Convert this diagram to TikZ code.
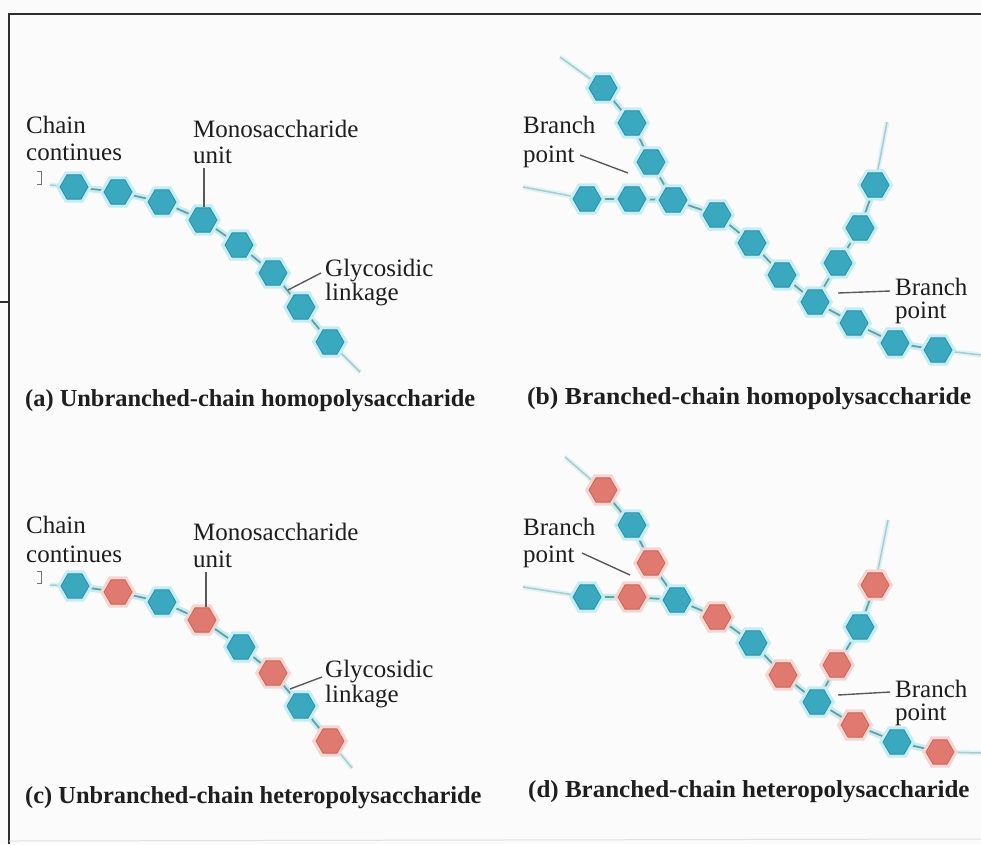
\documentclass[tikz,border=0pt]{standalone}
\usepackage{fontspec}
\setmainfont{Liberation Serif}
\usetikzlibrary{shapes.geometric}
\pgfdeclarelayer{bg}
\pgfsetlayers{bg,main}
\definecolor{cyanfill}{HTML}{3AA8BE}
\definecolor{cyanedge}{HTML}{2B8FA5}
\definecolor{cyanglow}{HTML}{C4EDF4}
\definecolor{redfill}{HTML}{E07A70}
\definecolor{rededge}{HTML}{C9645C}
\definecolor{redglow}{HTML}{F6D6D1}
\definecolor{linkcol}{HTML}{6E9C9E}
\definecolor{txt}{HTML}{1E1E1E}
\definecolor{framecol}{HTML}{2E2E2E}
\definecolor{paper}{HTML}{FBFBFB}
\tikzset{
  hexc/.style={regular polygon, regular polygon sides=6, minimum size=28pt, inner sep=0pt,
    fill=cyanfill, draw=cyanedge, line width=0.8pt, preaction={draw=cyanglow, line width=7pt}},
  hexr/.style={regular polygon, regular polygon sides=6, minimum size=28pt, inner sep=0pt,
    fill=redfill, draw=rededge, line width=0.8pt, preaction={draw=redglow, line width=7pt}},
  link/.style={draw=linkcol, line width=1.8pt, line join=round, preaction={draw=cyanglow, line width=7pt}},
  endlink/.style={draw=linkcol!55, line width=1.5pt, preaction={draw=cyanglow!60, line width=5pt}},
  lbl/.style={anchor=base west, inner sep=0pt, font=\fontsize{25}{29}\selectfont, text=txt},
  captxt/.style={anchor=base west, inner sep=0pt, font=\fontsize{24.4}{28}\selectfont\bfseries, text=txt},
  ptr/.style={draw=black!65, line width=1.4pt},
  brk/.style={draw=black!55, line width=0.7pt},
}
\begin{document}
\begin{tikzpicture}[x=1pt,y=-1pt]
\useasboundingbox (0,0) rectangle (981,844);
\begin{pgfonlayer}{bg}
\fill[paper] (0,0) rectangle (981,844);
\end{pgfonlayer}
% frame
\coordinate (f1) at (9,14);
\coordinate (f2) at (981,14);
\coordinate (f3) at (9,844);
\coordinate (t1) at (0,302);
\coordinate (t2) at (9,302);
\coordinate (g1) at (9,841);
\coordinate (g2) at (981,839);
\draw[framecol, line width=2pt] (f2) -- (f1) -- (f3);
\draw[framecol, line width=2pt] (t1) -- (t2);
\draw[black!12, line width=1pt] (g1) -- (g2);

% ---------------- panel (a)
\coordinate (a0) at (50,185);
\node[hexc] (a1) at (74,187) {};
\node[hexc] (a2) at (118,192) {};
\node[hexc] (a3) at (162,202) {};
\node[hexc] (a4) at (203,220) {};
\node[hexc] (a5) at (239,245) {};
\node[hexc] (a6) at (273,273) {};
\node[hexc] (a7) at (301,307) {};
\node[hexc] (a8) at (330,342) {};
\coordinate (a9) at (360,372);
\begin{pgfonlayer}{bg}
\draw[endlink] (a0) -- (a1.center);
\draw[endlink] (a8.center) -- (a9);
\draw[link] (a1.center) -- (a2.center) -- (a3.center) -- (a4.center) -- (a5.center)
  -- (a6.center) -- (a7.center) -- (a8.center);
\end{pgfonlayer}
\node[lbl] (aChain) at (26,133) {Chain};
\node[lbl] (aCont) at (26,160) {continues};
\draw[brk] (37,171) -- (41,171) -- (41,184) -- (37,184);
\node[lbl] (aMono) at (193,137) {Monosaccharide};
\node[lbl] (aUnit) at (193,163) {unit};
\coordinate (aMP) at (204,168);
\draw[ptr] (aMP) -- (a4.north -| aMP);
\node[lbl] (aGly) at (325,276) {Glycosidic};
\node[lbl] (aLnk) at (325,300) {linkage};
\coordinate (aGP1) at (321,273);
\coordinate (aGP2) at (288,290);
\draw[ptr] (aGP1) -- (aGP2);
\node[captxt] (capA) at (25,406) {(a) Unbranched-chain homopolysaccharide};

% ---------------- panel (b)
\coordinate (bu0) at (560,57);
\node[hexc] (bu1) at (603,88) {};
\node[hexc] (bu2) at (632,123) {};
\node[hexc] (bu3) at (651,162) {};
\coordinate (bh0) at (523,187);
\node[hexc] (bh1) at (587,199) {};
\node[hexc] (bh2) at (632,199) {};
\node[hexc] (bh3) at (673,200) {};
\node[hexc] (bm4) at (717,215) {};
\node[hexc] (bm5) at (752,243) {};
\node[hexc] (bm6) at (782,275) {};
\node[hexc] (bm7) at (815,302) {};
\node[hexc] (bm8) at (854,323) {};
\node[hexc] (bm9) at (895,343) {};
\node[hexc] (bm10) at (938,350) {};
\coordinate (bm11) at (981,355);
\node[hexc] (br1) at (838,263) {};
\node[hexc] (br2) at (860,228) {};
\node[hexc] (br3) at (875,185) {};
\coordinate (br4) at (887,122);
\begin{pgfonlayer}{bg}
\draw[endlink] (bu0) -- (bu1.center);
\draw[endlink] (bh0) -- (bh1.center);
\draw[endlink] (bm10.center) -- (bm11);
\draw[endlink] (br3.center) -- (br4);
\draw[link] (bu1.center) -- (bu2.center) -- (bu3.center) -- (bh3.center);
\draw[link] (bh1.center) -- (bh2.center) -- (bh3.center) -- (bm4.center) -- (bm5.center)
  -- (bm6.center) -- (bm7.center) -- (bm8.center) -- (bm9.center) -- (bm10.center);
\draw[link] (bm7.center) -- (br1.center) -- (br2.center) -- (br3.center);
\end{pgfonlayer}
\node[lbl] (bB1) at (523,133) {Branch};
\node[lbl] (bP1) at (523,162) {point};
\coordinate (bQ1) at (580,155);
\coordinate (bQ2) at (628,173);
\draw[ptr] (bQ1) -- (bQ2);
\node[lbl] (bB2) at (895,295) {Branch};
\node[lbl] (bP2) at (895,318) {point};
\coordinate (bQ3) at (838,293);
\coordinate (bQ4) at (890,291);
\draw[ptr] (bQ3) -- (bQ4);
\node[captxt] (capB) at (527,404) {\scalebox{1.05}[1]{(b) Branched-chain homopolysaccharide}};

% ---------------- panel (c)
\coordinate (c0) at (50,585);
\node[hexc] (c1) at (75,586) {};
\node[hexr] (c2) at (118,592) {};
\node[hexc] (c3) at (162,602) {};
\node[hexr] (c4) at (202,620) {};
\node[hexc] (c5) at (241,647) {};
\node[hexr] (c6) at (273,673) {};
\node[hexc] (c7) at (301,706) {};
\node[hexr] (c8) at (330,741) {};
\coordinate (c9) at (352,768);
\begin{pgfonlayer}{bg}
\draw[endlink] (c0) -- (c1.center);
\draw[endlink] (c8.center) -- (c9);
\draw[link] (c1.center) -- (c2.center) -- (c3.center) -- (c4.center) -- (c5.center)
  -- (c6.center) -- (c7.center) -- (c8.center);
\end{pgfonlayer}
\node[lbl] (cChain) at (26,533) {Chain};
\node[lbl] (cCont) at (26,562) {continues};
\draw[brk] (37,571) -- (41,571) -- (41,583) -- (37,583);
\node[lbl] (cMono) at (193,540) {Monosaccharide};
\node[lbl] (cUnit) at (193,567) {unit};
\coordinate (cMP) at (206,572);
\draw[ptr] (cMP) -- (c4.north -| cMP);
\node[lbl] (cGly) at (325,677) {Glycosidic};
\node[lbl] (cLnk) at (325,702) {linkage};
\coordinate (cGP1) at (322,677);
\coordinate (cGP2) at (290,689);
\draw[ptr] (cGP1) -- (cGP2);
\node[captxt] (capC) at (25,803) {(c) Unbranched-chain heteropolysaccharide};

% ---------------- panel (d)
\coordinate (du0) at (565,457);
\node[hexr] (du1) at (603,490) {};
\node[hexc] (du2) at (632,525) {};
\node[hexr] (du3) at (651,563) {};
\coordinate (dh0) at (523,587);
\node[hexc] (dh1) at (587,597) {};
\node[hexr] (dh2) at (632,597) {};
\node[hexc] (dh3) at (677,600) {};
\node[hexr] (dm4) at (717,617) {};
\node[hexc] (dm5) at (753,643) {};
\node[hexr] (dm6) at (783,675) {};
\node[hexc] (dm7) at (817,702) {};
\node[hexr] (dm8) at (855,725) {};
\node[hexc] (dm9) at (897,742) {};
\node[hexr] (dm10) at (940,752) {};
\coordinate (dm11) at (981,753);
\node[hexr] (dr1) at (837,665) {};
\node[hexc] (dr2) at (860,627) {};
\node[hexr] (dr3) at (875,585) {};
\coordinate (dr4) at (888,520);
\begin{pgfonlayer}{bg}
\draw[endlink] (du0) -- (du1.center);
\draw[endlink] (dh0) -- (dh1.center);
\draw[endlink] (dm10.center) -- (dm11);
\draw[endlink] (dr3.center) -- (dr4);
\draw[link] (du1.center) -- (du2.center) -- (du3.center) -- (dh3.center);
\draw[link] (dh1.center) -- (dh2.center) -- (dh3.center) -- (dm4.center) -- (dm5.center)
  -- (dm6.center) -- (dm7.center) -- (dm8.center) -- (dm9.center) -- (dm10.center);
\draw[link] (dm7.center) -- (dr1.center) -- (dr2.center) -- (dr3.center);
\end{pgfonlayer}
\node[lbl] (dB1) at (523,535) {Branch};
\node[lbl] (dP1) at (523,562) {point};
\coordinate (dQ1) at (582,553);
\coordinate (dQ2) at (630,575);
\draw[ptr] (dQ1) -- (dQ2);
\node[lbl] (dB2) at (895,697) {Branch};
\node[lbl] (dP2) at (895,720) {point};
\coordinate (dQ3) at (838,695);
\coordinate (dQ4) at (890,692);
\draw[ptr] (dQ3) -- (dQ4);
\node[captxt] (capD) at (528,797) {\scalebox{1.025}[1]{(d) Branched-chain heteropolysaccharide}};
\end{tikzpicture}
\end{document}
